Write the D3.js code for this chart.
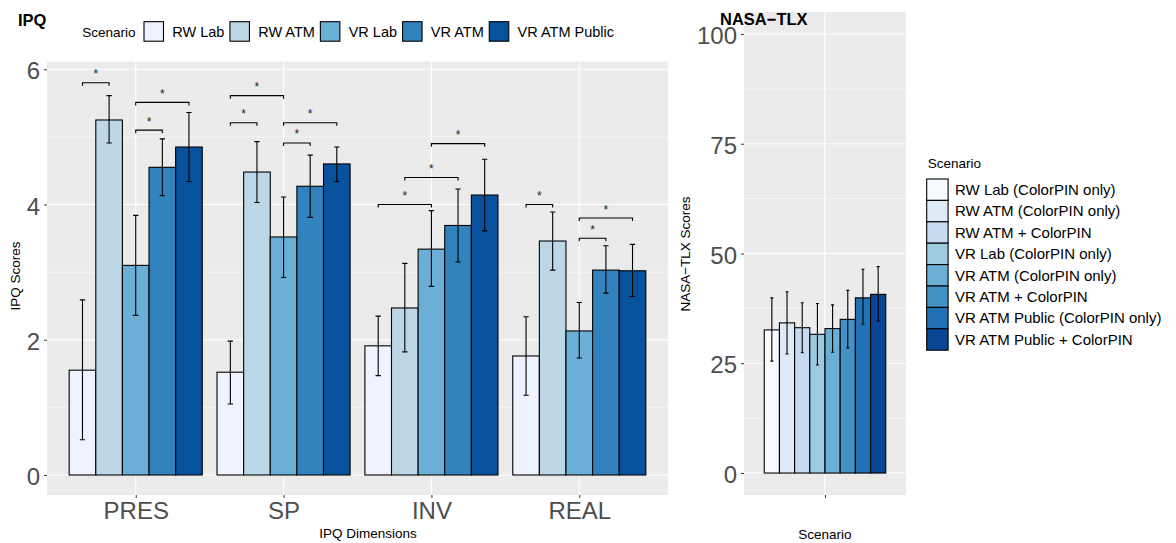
<!DOCTYPE html>
<html>
<head>
<meta charset="utf-8">
<script src="https://cdn.jsdelivr.net/npm/d3@7"></script>
<style>
  body { margin: 0; background: #fff; }
  svg { font-family: "Liberation Sans", Arial, Helvetica, sans-serif; }
</style>
</head>
<body>
<div id="chart"></div>
<script>
// ---- IPQ data ----
const ipqDims = ["PRES", "SP", "INV", "REAL"];
const ipqScenarios = ["RW Lab", "RW ATM", "VR Lab", "VR ATM", "VR ATM Public"];
const ipqColors = ["#eff3ff", "#bdd7e7", "#6baed6", "#3182bd", "#08519c"];
// means per dimension, in scenario order
const ipqPres = [1.55, 5.25, 3.10, 4.55, 4.85];
const ipqSp   = [1.52, 4.48, 3.52, 4.27, 4.60];
const ipqInv  = [1.91, 2.47, 3.34, 3.69, 4.14];
const ipqReal = [1.76, 3.46, 2.13, 3.03, 3.02];
// error bar ends
const ipqPresLo = [0.52, 4.91, 2.36, 4.13, 4.34], ipqPresHi = [2.59, 5.61, 3.84, 4.97, 5.36];
const ipqSpLo   = [1.05, 4.03, 2.92, 3.81, 4.34], ipqSpHi   = [1.98, 4.93, 4.11, 4.73, 4.85];
const ipqInvLo  = [1.47, 1.82, 2.79, 3.15, 3.61], ipqInvHi  = [2.35, 3.13, 3.91, 4.23, 4.67];
const ipqRealLo = [1.18, 3.03, 1.73, 2.69, 2.64], ipqRealHi = [2.34, 3.89, 2.55, 3.39, 3.41];
// significance brackets: [dimension, from scenario, to scenario, height]
const ipqSignif = [
  ["PRES", 0, 1, 5.80], ["PRES", 2, 3, 5.10], ["PRES", 2, 4, 5.51],
  ["SP", 0, 1, 5.21], ["SP", 0, 2, 5.61], ["SP", 2, 3, 4.91], ["SP", 2, 4, 5.21],
  ["INV", 0, 2, 4.00], ["INV", 1, 3, 4.40], ["INV", 2, 4, 4.90],
  ["REAL", 0, 1, 4.00], ["REAL", 2, 3, 3.50], ["REAL", 2, 4, 3.80]
];
const ipqTicks = [0, 2, 4, 6];

// ---- NASA-TLX data ----
const tlxScenarios = ["RW Lab (ColorPIN only)", "RW ATM (ColorPIN only)", "RW ATM + ColorPIN",
  "VR Lab (ColorPIN only)", "VR ATM (ColorPIN only)", "VR ATM + ColorPIN",
  "VR ATM Public (ColorPIN only)", "VR ATM Public + ColorPIN"];
const tlxColors = ["#f7fbff", "#deebf7", "#c6dbef", "#9ecae1", "#6baed6", "#4292c6", "#2171b5", "#084594"];
const tlxMeans = [32.6, 34.2, 33.1, 31.6, 32.9, 35.0, 39.9, 40.7];
const tlxLo    = [25.5, 27.1, 27.4, 24.6, 27.5, 28.5, 33.9, 34.6];
const tlxHi    = [39.9, 41.3, 38.8, 38.6, 38.3, 41.6, 46.4, 47.0];
const tlxTicks = [0, 25, 50, 75, 100];

const ipqRows = ipqDims.map((d, i) => ({
  dim: d,
  mean: [ipqPres, ipqSp, ipqInv, ipqReal][i],
  lo: [ipqPresLo, ipqSpLo, ipqInvLo, ipqRealLo][i],
  hi: [ipqPresHi, ipqSpHi, ipqInvHi, ipqRealHi][i]
}));

const width = 1176, height = 543;
const svg = d3.select("#chart").append("svg")
  .attr("width", width).attr("height", height);

const gridCol = "#ffffff", panelCol = "#ebebeb", txtCol = "#4d4d4d";

//draw panel background + grid
function drawPanel(x0, x1, y, majors, minors, xs) {
  const y0 = y.range()[1], y1 = y.range()[0];
  svg.append("rect").attr("x", x0).attr("y", y0)
    .attr("width", x1 - x0).attr("height", y1 - y0).attr("fill", panelCol);
  svg.append("g").selectAll("line").data(minors).join("line")
    .attr("x1", x0).attr("x2", x1).attr("y1", d => y(d)).attr("y2", d => y(d))
    .attr("stroke", gridCol).attr("stroke-width", 0.55);
  svg.append("g").selectAll("line").data(majors).join("line")
    .attr("x1", x0).attr("x2", x1).attr("y1", d => y(d)).attr("y2", d => y(d))
    .attr("stroke", gridCol).attr("stroke-width", 1.1);
  svg.append("g").selectAll("line").data(xs).join("line")
    .attr("x1", d => d).attr("x2", d => d).attr("y1", y0).attr("y2", y1)
    .attr("stroke", gridCol).attr("stroke-width", 1.1);
}

function styleAxis(g, size) {
  g.select(".domain").remove();
  g.selectAll(".tick line").attr("stroke", "#333333").attr("stroke-width", 1);
  g.selectAll(".tick text").attr("fill", txtCol).attr("font-size", size)
    .attr("font-family", "\"Liberation Sans\", Arial, sans-serif");
}

// ================= IPQ panel =================
const xL = d3.scalePoint().domain(ipqDims).range([47, 668]).padding(0.6);
const yL = d3.scaleLinear().domain([-0.296, 6.112]).range([495, 61.7]);
const xSub = d3.scaleBand().domain(d3.range(ipqScenarios.length))
  .range([-0.45 * xL.step(), 0.45 * xL.step()]);

drawPanel(47, 668, yL, ipqTicks, [1, 3, 5], ipqDims.map(d => xL(d)));

const barsL = svg.append("g");
ipqRows.forEach(r => {
  r.mean.forEach((v, i) => {
    const bx = xL(r.dim) + xSub(i);
    barsL.append("rect")
      .attr("x", bx).attr("y", yL(v))
      .attr("width", xSub.bandwidth()).attr("height", yL(0) - yL(v))
      .attr("fill", ipqColors[i]).attr("stroke", "#000").attr("stroke-width", 1.1);
  });
});
ipqRows.forEach(r => {
  r.mean.forEach((v, i) => {
    const cx = xL(r.dim) + xSub(i) + xSub.bandwidth() / 2;
    const cw = xSub.bandwidth() * 0.1;
    barsL.append("path")
      .attr("d", `M${cx - cw},${yL(r.hi[i])}H${cx + cw}M${cx},${yL(r.hi[i])}V${yL(r.lo[i])}M${cx - cw},${yL(r.lo[i])}H${cx + cw}`)
      .attr("stroke", "#000").attr("stroke-width", 1.1).attr("fill", "none");
  });
});

//significance brackets
const sig = svg.append("g");
ipqSignif.forEach(([dim, a, b, h]) => {
  const xa = xL(dim) + xSub(a) + xSub.bandwidth() / 2;
  const xb = xL(dim) + xSub(b) + xSub.bandwidth() / 2;
  const yy = yL(h);
  sig.append("path")
    .attr("d", `M${xa},${yy + 3}V${yy}H${xb}V${yy + 3}`)
    .attr("stroke", "#000").attr("stroke-width", 1.1).attr("fill", "none");
  sig.append("text").text("*")
    .attr("x", (xa + xb) / 2).attr("y", yy - 4.5)
    .attr("text-anchor", "middle").attr("font-size", 12).attr("fill", "#222");
});

svg.append("g")
  .attr("transform", "translate(47,0)")
  .call(d3.axisLeft(yL).tickValues(ipqTicks).tickFormat(d3.format("d")).tickSize(3).tickPadding(4))
  .call(g => styleAxis(g, 24))
  .call(g => g.selectAll(".tick text").attr("dy", "0.4em"));

svg.append("g")
  .attr("transform", "translate(0,495)")
  .call(d3.axisBottom(xL).tickSize(3).tickPadding(4))
  .call(g => styleAxis(g, 24));

svg.append("text").text("IPQ Scores")
  .attr("transform", "translate(20,276) rotate(-90)")
  .attr("text-anchor", "middle").attr("font-size", 13.5).attr("fill", "#000");
svg.append("text").text("IPQ Dimensions")
  .attr("x", 368).attr("y", 538)
  .attr("text-anchor", "middle").attr("font-size", 13.5).attr("fill", "#000");
svg.append("text").text("IPQ")
  .attr("x", 18).attr("y", 26)
  .attr("font-size", 16.5).attr("font-weight", "bold").attr("fill", "#000");

//top legend
const legL = svg.append("g");
legL.append("text").text("Scenario")
  .attr("x", 82.3).attr("y", 36.7).attr("font-size", 13.5).attr("fill", "#000");
let lx = 144;
ipqScenarios.forEach((s, i) => {
  legL.append("rect").attr("x", lx).attr("y", 21.7).attr("width", 19.5).attr("height", 19.5)
    .attr("fill", ipqColors[i]).attr("stroke", "#000").attr("stroke-width", 1.1);
  const t = legL.append("text").text(s)
    .attr("x", lx + 28.3).attr("y", 36.7).attr("font-size", 14.5).attr("fill", "#000");
  lx += 28.3 + t.node().getComputedTextLength() + 5.5;
});

// ================= NASA-TLX panel =================
const xR = d3.scalePoint().domain(["Scenario"]).range([744, 906]).padding(0.6);
const yR = d3.scaleLinear().domain([-5, 105]).range([495, 12]);
const xSubR = d3.scaleBand().domain(d3.range(tlxScenarios.length)).range([-0.45 * 135, 0.45 * 135]);

drawPanel(744, 906, yR, tlxTicks, [12.5, 37.5, 62.5, 87.5], [xR("Scenario")]);

const barsR = svg.append("g");
tlxMeans.forEach((v, i) => {
  barsR.append("rect")
    .attr("x", xR("Scenario") + xSubR(i)).attr("y", yR(v))
    .attr("width", xSubR.bandwidth()).attr("height", yR(0) - yR(v))
    .attr("fill", tlxColors[i]).attr("stroke", "#000").attr("stroke-width", 1.1);
});
tlxMeans.forEach((v, i) => {
  const cx = xR("Scenario") + xSubR(i) + xSubR.bandwidth() / 2;
  const cw = xSubR.bandwidth() * 0.1;
  barsR.append("path")
    .attr("d", `M${cx - cw},${yR(tlxHi[i])}H${cx + cw}M${cx},${yR(tlxHi[i])}V${yR(tlxLo[i])}M${cx - cw},${yR(tlxLo[i])}H${cx + cw}`)
    .attr("stroke", "#000").attr("stroke-width", 1.1).attr("fill", "none");
});

svg.append("g")
  .attr("transform", "translate(744,0)")
  .call(d3.axisLeft(yR).tickValues(tlxTicks).tickSize(3).tickPadding(4))
  .call(g => styleAxis(g, 24))
  .call(g => g.selectAll(".tick text").attr("dy", "0.4em"));

svg.append("g")
  .attr("transform", "translate(0,495)")
  .call(d3.axisBottom(xR).tickSize(3).tickFormat(""))
  .call(g => styleAxis(g, 24));

svg.append("text").text("NASA\u2212TLX Scores")
  .attr("transform", "translate(690,254) rotate(-90)")
  .attr("text-anchor", "middle").attr("font-size", 13.5).attr("fill", "#000");
svg.append("text").text("Scenario")
  .attr("x", 825).attr("y", 539)
  .attr("text-anchor", "middle").attr("font-size", 13.5).attr("fill", "#000");
svg.append("text").text("NASA\u2212TLX")
  .attr("x", 720).attr("y", 25)
  .attr("font-size", 16.5).attr("font-weight", "bold").attr("fill", "#000");

//right legend
const legR = svg.append("g");
legR.append("text").text("Scenario")
  .attr("x", 927.7).attr("y", 168.3).attr("font-size", 13.5).attr("fill", "#000");
tlxScenarios.forEach((s, i) => {
  const ty = 179 + i * 21.4;
  legR.append("rect").attr("x", 926.7).attr("y", ty).attr("width", 21.4).attr("height", 21.4)
    .attr("fill", tlxColors[i]).attr("stroke", "#000").attr("stroke-width", 1.1);
  legR.append("text").text(s)
    .attr("x", 955).attr("y", ty + 16).attr("font-size", 15).attr("fill", "#000");
});
</script>
</body>
</html>
